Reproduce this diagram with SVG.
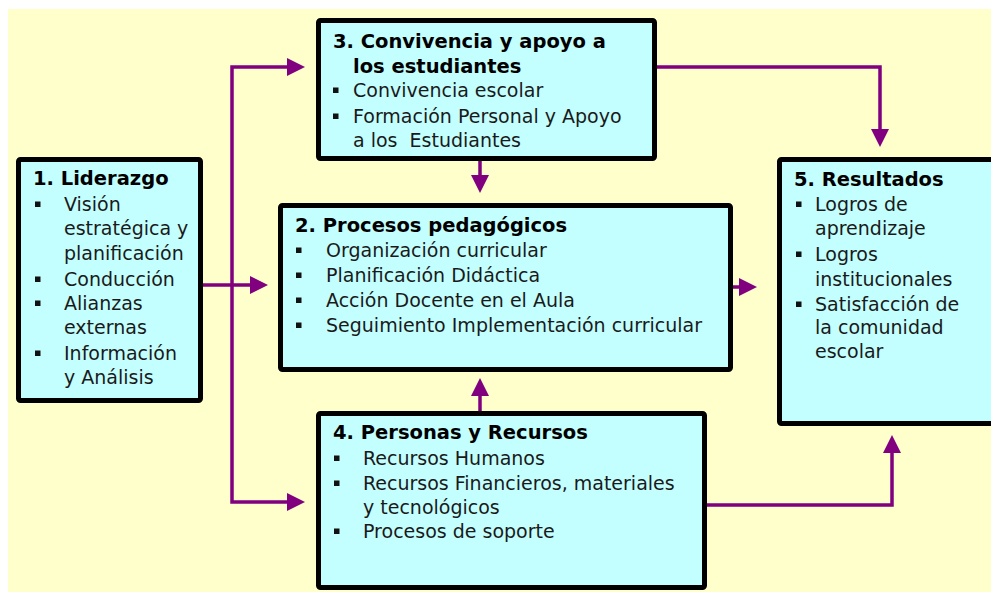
<svg xmlns="http://www.w3.org/2000/svg" width="991" height="592" viewBox="0 0 991 592">
<defs>
<style>
.bg{fill:#FFFFCC}
.box{fill:#C4FFFF;stroke:#000;stroke-width:5;stroke-linejoin:round}
.t{font-family:"DejaVu Sans","Liberation Sans",sans-serif;font-size:19px;fill:#1a1a1a}
.h{font-weight:bold;fill:#000;font-size:19.5px}
.b{fill:#111}
.c{fill:none;stroke:#800080;stroke-width:3.5;stroke-linejoin:miter}
</style>
<marker id="ah" markerUnits="userSpaceOnUse" markerWidth="18" markerHeight="18" refX="8" refY="9" orient="auto">
<path d="M0,0 L18,9 L0,18 z" fill="#800080"/>
</marker>
<marker id="as" markerUnits="userSpaceOnUse" markerWidth="18" markerHeight="18" refX="8" refY="9" orient="auto-start-reverse">
<path d="M0,0 L18,9 L0,18 z" fill="#800080"/>
</marker>
</defs>
<rect x="0" y="0" width="991" height="592" fill="#fff"/>
<rect class="bg" x="8" y="9" width="983" height="583"/>

<g id="connectors">
<path class="c" d="M203,285 H258" marker-end="url(#ah)"/>
<path class="c" d="M295,67 H232 V502 H295" marker-start="url(#as)" marker-end="url(#ah)"/>
<path class="c" d="M480,161 V183" marker-end="url(#ah)"/>
<path class="c" d="M480,411 V388" marker-end="url(#ah)"/>
<path class="c" d="M733,287 H747" marker-end="url(#ah)"/>
<path class="c" d="M657,67 H880 V137" marker-end="url(#ah)"/>
<path class="c" d="M707,505 H892 V445" marker-end="url(#ah)"/>
</g>

<g id="node1">
<rect class="box" x="18.5" y="159.5" width="182" height="241" rx="2"/>
<text class="t h" x="33" y="185">1. Liderazgo</text>
<rect class="b" x="35" y="201.5" width="5.5" height="5.5"/>
<rect class="b" x="35" y="276.5" width="5.5" height="5.5"/>
<rect class="b" x="35" y="300.5" width="5.5" height="5.5"/>
<rect class="b" x="35" y="350.5" width="5.5" height="5.5"/>
<text class="t" x="64" y="211">Visión</text>
<text class="t" x="64" y="235">estratégica y</text>
<text class="t" x="64" y="260">planificación</text>
<text class="t" x="64" y="286">Conducción</text>
<text class="t" x="64" y="310">Alianzas</text>
<text class="t" x="64" y="334">externas</text>
<text class="t" x="64" y="360">Información</text>
<text class="t" x="64" y="384">y Análisis</text>
</g>

<g id="node3">
<rect class="box" x="318.5" y="20.5" width="336" height="138" rx="2"/>
<text class="t h" x="333" y="48">3. Convivencia y apoyo a</text>
<text class="t h" x="353" y="73">los estudiantes</text>
<rect class="b" x="333" y="87.5" width="5.5" height="5.5"/>
<rect class="b" x="333" y="113.5" width="5.5" height="5.5"/>
<text class="t" x="353" y="97">Convivencia escolar</text>
<text class="t" x="353" y="123">Formación Personal y Apoyo</text>
<text class="t" x="353" y="147" xml:space="preserve">a los  Estudiantes</text>
</g>

<g id="node2">
<rect class="box" x="280.5" y="205.5" width="450" height="164" rx="2"/>
<text class="t h" x="295" y="232">2. Procesos pedagógicos</text>
<rect class="b" x="296" y="247.5" width="5.5" height="5.5"/>
<rect class="b" x="296" y="272.5" width="5.5" height="5.5"/>
<rect class="b" x="296" y="297.5" width="5.5" height="5.5"/>
<rect class="b" x="296" y="322.5" width="5.5" height="5.5"/>
<text class="t" x="326" y="257">Organización curricular</text>
<text class="t" x="326" y="282">Planificación Didáctica</text>
<text class="t" x="326" y="307">Acción Docente en el Aula</text>
<text class="t" x="326" y="332">Seguimiento Implementación curricular</text>
</g>

<g id="node4">
<rect class="box" x="318.5" y="413.5" width="386" height="174" rx="2"/>
<text class="t h" x="333" y="439">4. Personas y Recursos</text>
<rect class="b" x="334" y="455.5" width="5.5" height="5.5"/>
<rect class="b" x="334" y="480.5" width="5.5" height="5.5"/>
<rect class="b" x="334" y="528.5" width="5.5" height="5.5"/>
<text class="t" x="363" y="465">Recursos Humanos</text>
<text class="t" x="363" y="490">Recursos Financieros, materiales</text>
<text class="t" x="363" y="514">y tecnológicos</text>
<text class="t" x="363" y="538">Procesos de soporte</text>
</g>

<g id="node5">
<rect class="box" x="779.5" y="159.5" width="230" height="264" rx="2"/>
<text class="t h" x="794" y="186">5. Resultados</text>
<rect class="b" x="796" y="201.5" width="5.5" height="5.5"/>
<rect class="b" x="796" y="251.5" width="5.5" height="5.5"/>
<rect class="b" x="796" y="301.5" width="5.5" height="5.5"/>
<text class="t" x="815" y="211">Logros de</text>
<text class="t" x="815" y="235">aprendizaje</text>
<text class="t" x="815" y="261">Logros</text>
<text class="t" x="815" y="286">institucionales</text>
<text class="t" x="815" y="311">Satisfacción de</text>
<text class="t" x="815" y="334">la comunidad</text>
<text class="t" x="815" y="358">escolar</text>
</g>
</svg>
